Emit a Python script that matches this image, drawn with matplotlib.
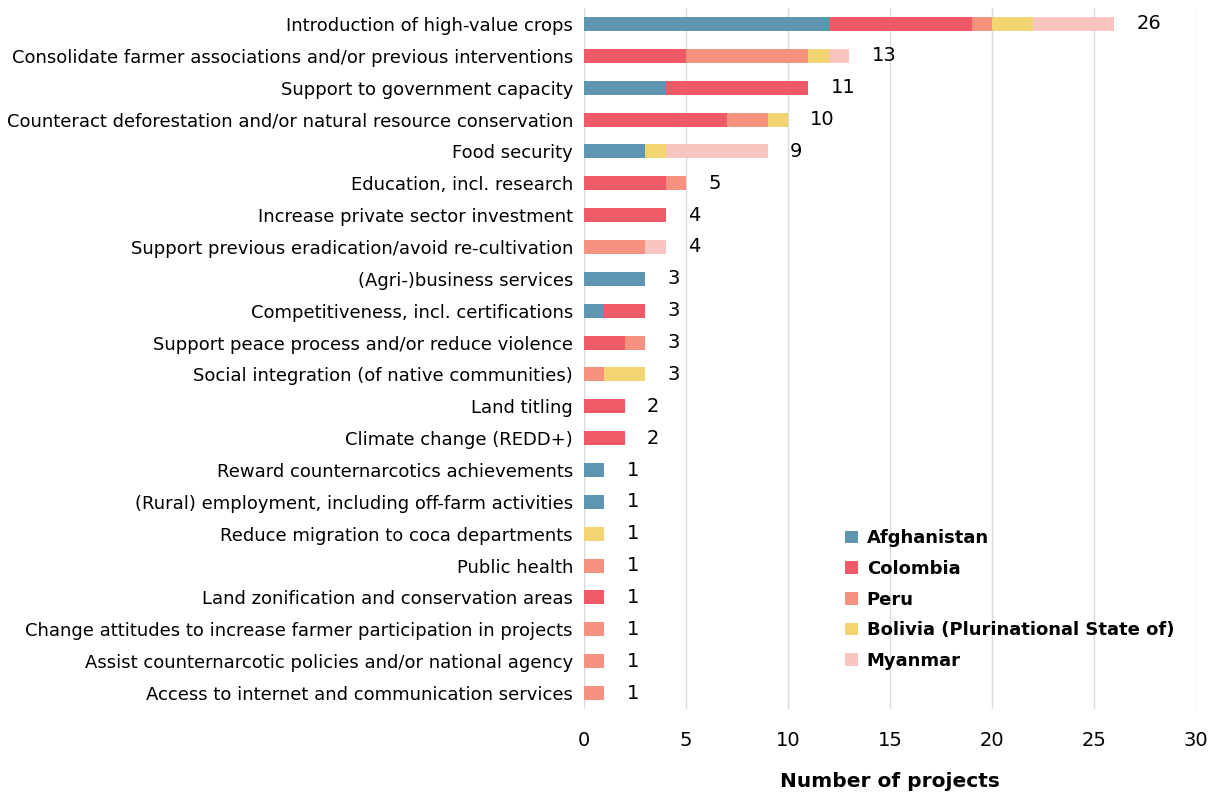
import matplotlib.pyplot as plt
import numpy as np

plt.rcParams['font.family'] = ['DejaVu Sans']

# categories, top to bottom
categories = [
    "Introduction of high-value crops",
    "Consolidate farmer associations and/or previous interventions",
    "Support to government capacity",
    "Counteract deforestation and/or natural resource conservation",
    "Food security",
    "Education, incl. research",
    "Increase private sector investment",
    "Support previous eradication/avoid re-cultivation",
    "(Agri-)business services",
    "Competitiveness, incl. certifications",
    "Support peace process and/or reduce violence",
    "Social integration (of native communities)",
    "Land titling",
    "Climate change (REDD+)",
    "Reward counternarcotics achievements",
    "(Rural) employment, including off-farm activities",
    "Reduce migration to coca departments",
    "Public health",
    "Land zonification and conservation areas",
    "Change attitudes to increase farmer participation in projects",
    "Assist counternarcotic policies and/or national agency",
    "Access to internet and communication services",
]

afghanistan = [12, 0, 4, 0, 3, 0, 0, 0, 3, 1, 0, 0, 0, 0, 1, 1, 0, 0, 0, 0, 0, 0]
colombia    = [7, 5, 7, 7, 0, 4, 4, 0, 0, 2, 2, 0, 2, 2, 0, 0, 0, 0, 1, 0, 0, 0]
peru        = [1, 6, 0, 2, 0, 1, 0, 3, 0, 0, 1, 1, 0, 0, 0, 0, 0, 1, 0, 1, 1, 1]
bolivia     = [2, 1, 0, 1, 1, 0, 0, 0, 0, 0, 0, 2, 0, 0, 0, 0, 1, 0, 0, 0, 0, 0]
myanmar     = [4, 1, 0, 0, 5, 0, 0, 1, 0, 0, 0, 0, 0, 0, 0, 0, 0, 0, 0, 0, 0, 0]

series = [
    ("Afghanistan", afghanistan, "#5E95B0"),
    ("Colombia", colombia, "#F05A67"),
    ("Peru", peru, "#F4917F"),
    ("Bolivia (Plurinational State of)", bolivia, "#F2D472"),
    ("Myanmar", myanmar, "#F8C5C0"),
]

fig = plt.figure(figsize=(12.16, 7.94), dpi=100)
ax = fig.add_axes([0.4803, 0.1071, 0.5033, 0.8828])

y = np.arange(len(categories))
left = np.zeros(len(categories))
for name, vals, col in series:
    vals = np.array(vals, dtype=float)
    ax.barh(y, vals, left=left, height=0.44, color=col, label=name, zorder=3)
    left += vals

# totals next to each bar
for yi, tot in zip(y, left):
    ax.annotate(str(int(tot)), (tot, yi), xytext=(16, 0), textcoords="offset points",
                va="center", ha="left", fontsize=14, color="black")

ax.set_ylim(len(categories) - 0.5, -0.5)
ax.set_xlim(0, 30)
ax.set_xticks(range(0, 31, 5))
ax.set_yticks(y)
ax.set_yticklabels(categories, fontsize=13)
ax.tick_params(axis="x", labelsize=14, length=0, pad=16)
ax.tick_params(axis="y", length=0, pad=8)
ax.grid(axis="x", color="#D9D9D9", linewidth=1, zorder=0)
for s in ax.spines.values():
    s.set_visible(False)

ax.set_xlabel("Number of projects", fontsize=14.5, fontweight="bold", labelpad=16)

leg = ax.legend(loc="upper left", bbox_to_anchor=(0.692, 0.338), bbox_transform=fig.transFigure,
                frameon=False, prop={"weight": "bold", "size": 13},
                handlelength=0.7, handleheight=0.7, handletextpad=0.5, labelspacing=0.7,
                borderaxespad=0, borderpad=0.2)

fig.savefig("out.png", dpi=100)
